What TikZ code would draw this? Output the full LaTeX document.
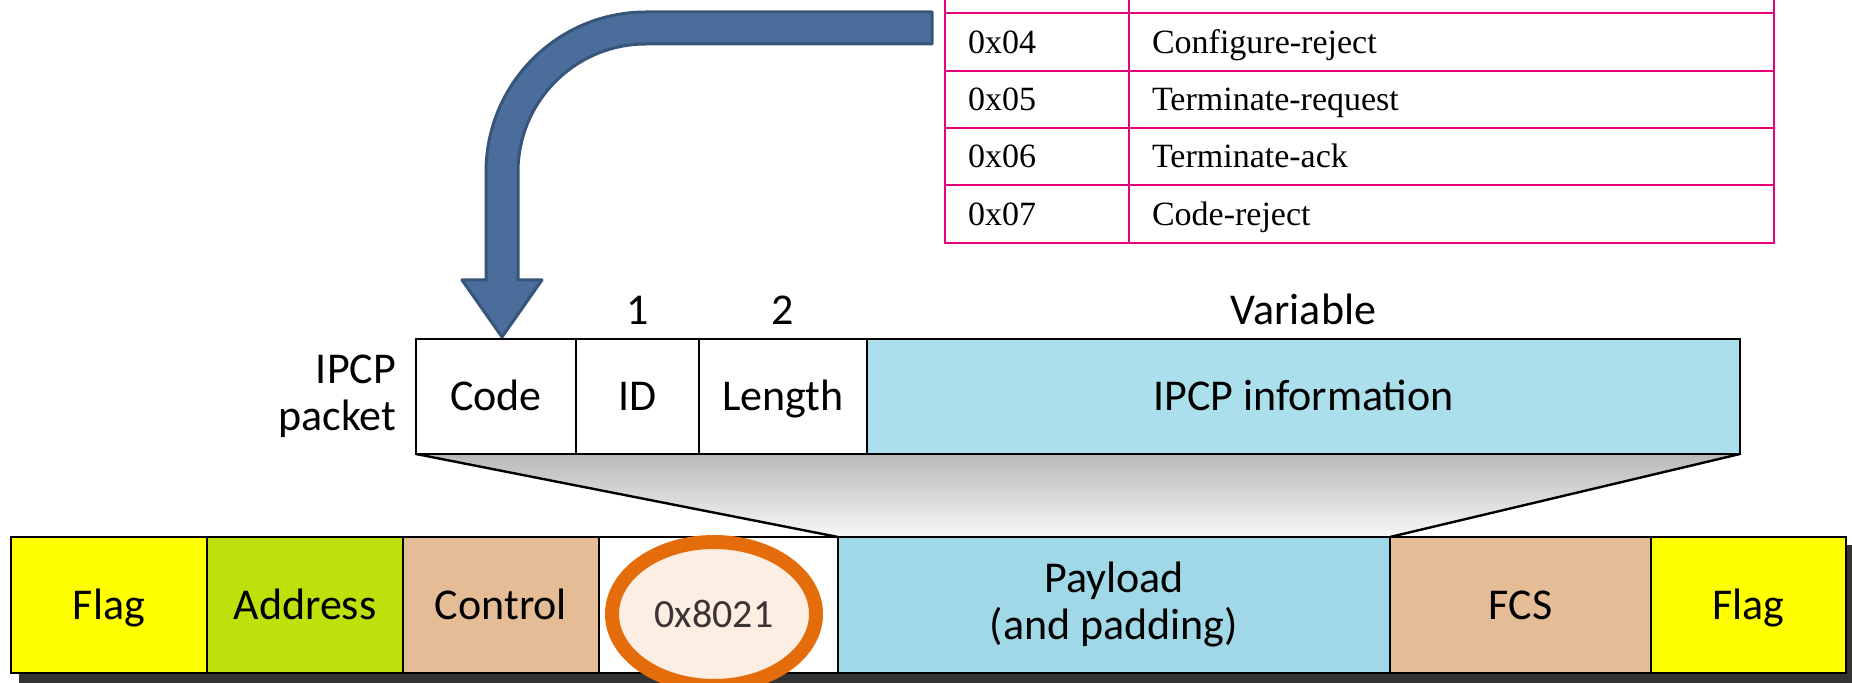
\documentclass[tikz,border=0pt]{standalone}
\usepackage{fontspec}
\setmainfont{Carlito}
\newfontfamily\tabfont{Liberation Serif}
\usetikzlibrary{shapes.geometric,positioning,backgrounds}
\definecolor{flagyellow}{HTML}{FFFF00}
\definecolor{addrgreen}{HTML}{C0E00C}
\definecolor{ctrltan}{HTML}{E4BC96}
\definecolor{payblue}{HTML}{A0D8E8}
\definecolor{infoblue}{HTML}{ABDFEC}
\definecolor{arrowblue}{HTML}{4A6D9B}
\definecolor{arrowedge}{HTML}{37557A}
\definecolor{ringorange}{HTML}{E46C0A}
\definecolor{ringfill}{HTML}{FDEEE3}
\definecolor{protogray}{HTML}{3C3434}
\definecolor{tabpink}{HTML}{E6007E}
\definecolor{shadowgray}{HTML}{333333}

\begin{document}
\begin{tikzpicture}[x=0.5pt, y=-0.5pt,
    every node/.style={inner sep=0pt, outer sep=0pt},
    lbl/.style={font=\fontsize{22}{23.5}\selectfont},
    box/.style={lbl, draw, line width=1.2pt, minimum height=68pt, align=center},
    field/.style={box, text height=14.2pt, text depth=0pt},
    pkt/.style={lbl, draw, line width=1.2pt, minimum height=57.5pt, text height=14.2pt, text depth=0pt},
    tcell/.style={draw=tabpink, line width=1pt, minimum height=28.75pt, inner xsep=11.5pt,
        align=left, text height=11.2pt, text depth=0pt, font=\tabfont\fontsize{17}{20}\selectfont},
    hilite/.style={ellipse, draw=ringorange, line width=7pt, fill=ringfill, minimum width=102pt,
        minimum height=72pt, text=protogray, font=\fontsize{20}{24}\selectfont},
    bendarrow/.style={fill=arrowblue, draw=arrowedge, line width=1.5pt, line join=round}]
    \useasboundingbox (0,0) rectangle (1852,683);

    % PPP frame
    \node[field, fill=flagyellow, minimum width=98pt] (flag1) at (109,605) {Flag};
    \node[field, fill=addrgreen, minimum width=98pt] (addr) at (305,605) {Address};
    \node[field, fill=ctrltan, minimum width=98pt] (ctrl) at (501,605) {Control};
    \node[field, fill=white, minimum width=119.5pt] (proto) at (718.5,605) {};
    \node[box, fill=payblue, minimum width=276pt] (pay) at (1114,605) {Payload\\(and padding)};
    \node[field, fill=ctrltan, minimum width=130.5pt] (fcs) at (1520.5,605) {FCS};
    \node[field, fill=flagyellow, minimum width=97.5pt] (flag2) at (1748.5,605) {Flag};
    \node[hilite] (hl) at (714,614) {0x8021};

    % IPCP packet
    \node[pkt, fill=white, minimum width=80pt] (code) at (496,396.5) {Code};
    \node[pkt, fill=white, minimum width=61.5pt] (id) at (637.5,396.5) {ID};
    \node[pkt, fill=white, minimum width=84pt] (len) at (783,396.5) {Length};
    \node[pkt, fill=infoblue, minimum width=436.5pt] (info) at (1303.5,396.5) {IPCP information};
    \node[lbl, above=7pt of id] (idsize) {1};
    \node[lbl, above=7pt of len] (lensize) {2};
    \node[lbl, above=7pt of info] (infosize) {Variable};
    \node[lbl, align=right, left=10pt of code] (pktname) {IPCP\\packet};

    \begin{scope}[on background layer]
        \fill[shadowgray] (19,545) rectangle (1860,690);
        \shade[top color=gray!55, bottom color=white!97!black]
            (code.south west) -- (info.south east) -- (pay.north east) -- (pay.north west) -- cycle;
    \end{scope}
    \draw[line width=1.2pt] (code.south west) -- (pay.north west) (info.south east) -- (pay.north east);

    % code table
    \foreach \y/\c/\n [count=\i] in {-15.75//, 42/0x04/Configure-reject, 99.5/0x05/Terminate-request,
            156.5/0x06/Terminate-ack, 214/0x07/Code-reject} {
        \node[tcell, text width=69pt] (tc\i) at (1037,\y) {\c};
        \node[tcell, text width=299.5pt] (tn\i) at (1451.5,\y) {\n};
    }

    % bent arrow
    \filldraw[bendarrow] (932,12) [rounded corners=80pt] -- (486,12) [sharp corners] -- (486,280)
        -- (462,280) -- (502,337) -- (542,280) -- (518,280) [rounded corners=64pt] -- (518,44)
        [sharp corners] -- (932,44) -- cycle;
\end{tikzpicture}
\end{document}
